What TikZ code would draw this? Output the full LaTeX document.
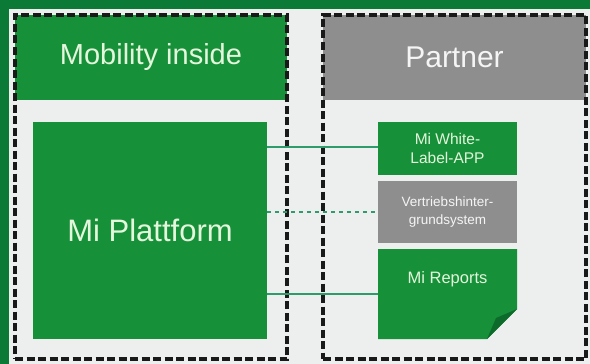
\documentclass[tikz,border=0pt]{standalone}
\usepackage{fontspec}
\setmainfont{Liberation Sans}
\definecolor{frame}{HTML}{0B7A36}
\definecolor{panel}{HTML}{ECEFED}
\definecolor{mgreen}{HTML}{179139}
\definecolor{mdark}{HTML}{0C6A2A}
\definecolor{mgray}{HTML}{8E8E8E}
\definecolor{ink}{HTML}{E4F6DC}
\definecolor{wire}{HTML}{2E9B6C}
\tikzset{
  box/.style={rectangle, inner sep=0pt, outer sep=0pt, align=center},
  greenbox/.style={box, fill=mgreen, text=ink},
  graybox/.style={box, fill=mgray, text=white!92!gray},
  frameline/.style={box, draw=black!90, line width=3.4pt, dash pattern=on 8pt off 3.5pt},
  link/.style={draw=wire, line width=1.4pt},
  dlink/.style={link, dash pattern=on 4pt off 4pt},
}
\begin{document}
\begin{tikzpicture}[x=1pt, y=-1pt]
\useasboundingbox (0,0) rectangle (590,364);
% background: green frame and light panel
\fill[frame] (0,0) rectangle (590,364);
\fill[panel] (9,9) rectangle (590,364);

% headers
\node[greenbox, minimum width=272pt, minimum height=85pt, font=\fontsize{29}{32}\selectfont]
  (mobhead) at (151,57.5) {Mobility inside};
\node[graybox, minimum width=263pt, minimum height=85pt, font=\fontsize{30}{33}\selectfont]
  (parthead) at (454.5,57.5) {Partner};

% dashed group frames
\node[frameline, minimum width=272pt, minimum height=344pt] (mobframe) at (151,187) {};
\node[frameline, minimum width=263pt, minimum height=344pt] (partframe) at (454.5,187) {};

% platform
\node[greenbox, minimum width=234pt, minimum height=217pt, font=\fontsize{31}{34}\selectfont]
  (plat) at (150,230.5) {Mi Plattform};

% partner systems
\node[greenbox, minimum width=139pt, minimum height=53pt, font=\fontsize{15.5}{19}\selectfont]
  (wl) at (447.5,148.5) {Mi White-\\Label-APP};
\node[graybox, minimum width=139pt, minimum height=62pt, font=\fontsize{13.5}{18}\selectfont]
  (vs) at (447.5,212) {Vertriebshinter-\\grundsystem};
\node[box, minimum width=139pt, minimum height=90pt] (rep) at (447.5,294) {};
\fill[mgreen] (rep.north west) -- (rep.north east) -- ([yshift=30pt]rep.south east)
  -- ([xshift=-30pt]rep.south east) -- (rep.south west) -- cycle;
\fill[mdark] ([yshift=30pt]rep.south east) -- ([xshift=-30pt]rep.south east)
  -- ([xshift=-21pt,yshift=21pt]rep.south east) -- cycle;
\node[box, text=ink, font=\fontsize{16.5}{19}\selectfont] (reptext)
  at ([yshift=15pt]rep.center) {Mi Reports};

% connections
\draw[link] (plat.east |- 0,147) -- (wl.west |- 0,147);
\draw[dlink] (plat.east |- vs.west) -- (vs.west);
\draw[link] (plat.east |- rep.west) -- (rep.west);
\end{tikzpicture}
\end{document}
